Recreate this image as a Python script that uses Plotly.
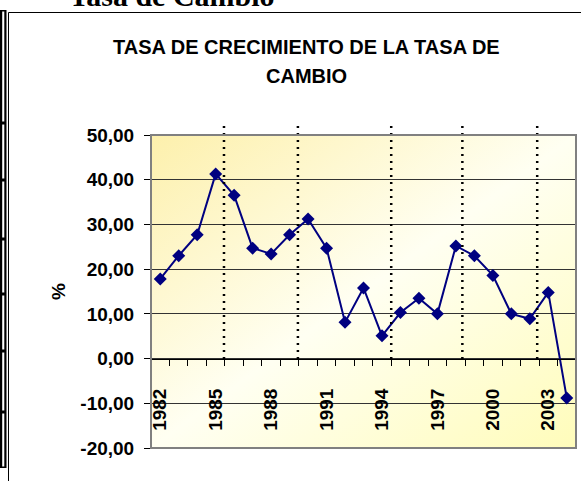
import base64
import plotly.graph_objects as go

# data
years = [str(y) for y in range(1982, 2005)]
tasa = [17.8, 23.0, 27.7, 41.3, 36.5, 24.7, 23.4, 27.7, 31.2, 24.7, 8.1, 15.8,
        5.1, 10.3, 13.5, 10.0, 25.2, 23.0, 18.6, 10.0, 8.9, 14.8, -8.8]
year_labels = ["1982", "1985", "1988", "1991", "1994", "1997", "2000", "2003"]
y_ticks = [-20, -10, 0, 10, 20, 30, 40, 50]
y_ticktext = ["-20,00", "-10,00", "0,00", "10,00", "20,00", "30,00", "40,00", "50,00"]
# vertical dotted separators (category index units)
cortes = [3.45, 7.45, 12.5, 16.35, 20.4]

W, H = 581, 481
# plot area in pixels
L, R, T, B = 151, 576, 135, 448
Y0 = 359  # pixel row of the zero line


def px_x(p):
    return p / W


def px_y(p):
    return (H - p) / H


idx = list(range(len(years)))
label_idx = [years.index(y) for y in year_labels]

fig = go.Figure()
fig.add_trace(go.Scatter(
    x=idx, y=tasa, mode="lines+markers",
    line=dict(color="#000080", width=2),
    marker=dict(symbol="diamond", size=10, color="#000080"),
    hoverinfo="skip", showlegend=False,
))

# gradient background of the plot area
svg = """<svg xmlns='http://www.w3.org/2000/svg' width='100' height='100' preserveAspectRatio='none' viewBox='0 0 100 100'>
<defs><linearGradient id='g' x1='0' y1='0' x2='1' y2='1'>
<stop offset='0' stop-color='#FDF0AC'/><stop offset='0.5' stop-color='#FFFFF2'/><stop offset='1' stop-color='#FFFCBA'/>
</linearGradient></defs><rect width='100' height='100' fill='url(#g)'/></svg>"""
src = "data:image/svg+xml;base64," + base64.b64encode(svg.encode()).decode()
fig.add_layout_image(dict(
    source=src, xref="paper", yref="paper", x=px_x(L), y=px_y(T),
    sizex=(R - L) / W, sizey=(B - T) / H, sizing="stretch",
    xanchor="left", yanchor="top", layer="below",
))

shapes = []
for c in cortes:
    shapes.append(dict(type="line", xref="x", yref="paper", x0=c, x1=c,
                       y0=px_y(Y0), y1=px_y(122),
                       line=dict(color="black", width=2.5, dash="2px,5px")))
# plot area border
shapes.append(dict(type="rect", xref="paper", yref="paper",
                   x0=px_x(L), x1=px_x(R), y0=px_y(B), y1=px_y(T),
                   line=dict(color="#808080", width=2)))
# chart area border
shapes.append(dict(type="rect", xref="paper", yref="paper",
                   x0=px_x(8.5), x1=px_x(600), y0=px_y(500), y1=px_y(12.5),
                   line=dict(color="black", width=1)))
# table frame on the left edge
shapes.append(dict(type="rect", xref="paper", yref="paper",
                   x0=0, x1=px_x(6.5), y0=px_y(468), y1=px_y(10),
                   fillcolor="black", line=dict(width=0)))
rows = [10, 123, 180, 239, 294, 351, 412, 468]
for a, b in zip(rows[:-1], rows[1:]):
    shapes.append(dict(type="rect", xref="paper", yref="paper",
                       x0=px_x(2.2), x1=px_x(4.3), y0=px_y(b - 1.5), y1=px_y(a + 1.5),
                       fillcolor="white", line=dict(width=0)))

bold = dict(family="Arial, Liberation Sans, sans-serif", size=19, weight="bold", color="black")

fig.update_layout(
    width=W, height=H,
    margin=dict(l=0, r=0, t=0, b=0, autoexpand=False),
    paper_bgcolor="white", plot_bgcolor="rgba(0,0,0,0)",
    font=dict(family="Arial, Liberation Sans, sans-serif", color="black"),
    shapes=shapes,
    annotations=[
        dict(text="<b>Tasa de Cambio</b>", x=px_x(67), y=px_y(14), xref="paper", yref="paper",
             xanchor="left", yanchor="bottom", showarrow=False,
             font=dict(family="Liberation Serif, Times New Roman, serif", size=30)),
        dict(text="<b>TASA DE CRECIMIENTO DE LA TASA DE</b>", x=px_x(306), y=px_y(47),
             xref="paper", yref="paper", xanchor="center", yanchor="middle",
             showarrow=False, font=dict(size=20)),
        dict(text="<b>CAMBIO</b>", x=px_x(306), y=px_y(76),
             xref="paper", yref="paper", xanchor="center", yanchor="middle",
             showarrow=False, font=dict(size=20)),
        dict(text="<b>%</b>", x=px_x(58), y=px_y(292), xref="paper", yref="paper",
             xanchor="center", yanchor="middle",
             textangle=-90, showarrow=False, font=dict(size=19)),
    ],
    xaxis=dict(
        domain=[px_x(L), px_x(R)], range=[-0.5, len(years) - 0.5],
        anchor="free", position=px_y(Y0), automargin=False,
        tickmode="array", tickvals=label_idx, ticktext=year_labels,
        ticks="", tickangle=-90, ticklabelstandoff=21, tickfont=bold,
        showline=True, linecolor="black", linewidth=1,
        showgrid=False, zeroline=False,
        minor=dict(tick0=-0.5, dtick=1, ticks="outside", ticklen=6,
                   tickcolor="black", showgrid=False),
    ),
    yaxis=dict(
        domain=[px_y(B), px_y(T)], range=[-20, 50], automargin=False,
        tickmode="array", tickvals=y_ticks, ticktext=y_ticktext,
        ticks="outside", ticklen=6, tickcolor="black", ticklabelstandoff=6,
        tickfont=bold,
        showline=True, linecolor="black", linewidth=1,
        showgrid=True, gridcolor="#333333", gridwidth=1, zeroline=False,
    ),
)

# the page's default body margin would shift the whole chart by 8px
fig.write_html("out.html", config={"displayModeBar": False},
               post_script="document.body.style.margin='0';")
